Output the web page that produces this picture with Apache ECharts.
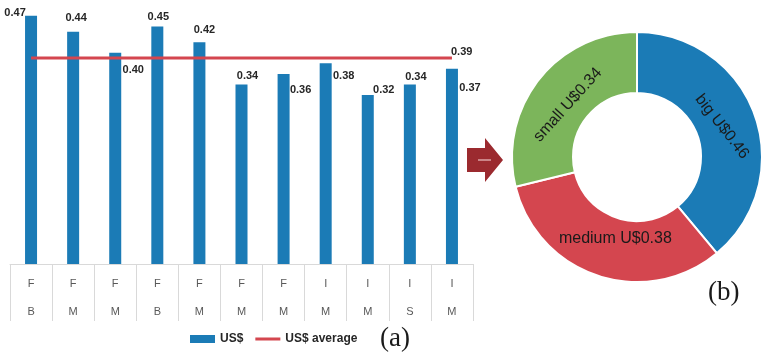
<!DOCTYPE html>
<html>
<head>
<meta charset="utf-8">
<script src="https://cdn.jsdelivr.net/npm/echarts@6/dist/echarts.min.js"></script>
<style>html,body{margin:0;padding:0;background:#fff}#c{width:780px;height:356px}</style>
</head>
<body>
<div id="c"></div>
<script>
// ---- data ----
const row1 = ['F','F','F','F','F','F','F','I','I','I','I'];
const row2 = ['B','M','M','B','M','M','M','M','M','S','M'];
const usd = [0.47,0.44,0.40,0.45,0.42,0.34,0.36,0.38,0.32,0.34,0.37];
const usdAverage = [0.39,0.39,0.39,0.39,0.39,0.39,0.39,0.39,0.39,0.39,0.39];
const pieNames = ['big','medium','small'];
const pieValues = [0.46,0.38,0.34];

// ---- styles (label placement) ----
const barLabelOffsets = [[-16,8],[3,-3],[18,28],[1,1],[5,-2],[6,2],[17,27],[18,23],[16,5],[6,3],[18,30]];
const pieLabelRotate = [-52, 0, 48];
const pieLabelOffsets = [[-2,7],[9,-11],[-1,11]];

const categories = row1.map((r, i) => r + '\n' + row2[i]);
const BLUE = '#1b7bb6', RED = '#d4464f', GREEN = '#7cb55b';
const PIE_COLORS = [BLUE, RED, GREEN];

const chart = echarts.init(document.getElementById('c'));
chart.setOption({
  animation: false,
  textStyle: { fontFamily: 'Liberation Sans' },
  grid: { left: 10, right: 307, top: 0, bottom: 92 },
  legend: {
    left: 190, top: 333, padding: 0, itemWidth: 25, itemHeight: 8, itemGap: 12,
    textStyle: { fontWeight: 'bold', fontSize: 12, color: '#262626' },
    data: [
      { name: 'US$', icon: 'rect' },
      { name: 'US$ average', icon: 'path://M0,0L0.01,0M0,2.6H25V5.4H0ZM25,8L24.99,8' }
    ]
  },
  xAxis: {
    type: 'category', data: categories,
    axisLine: { lineStyle: { color: '#d9d9d9' } },
    axisTick: { show: true, length: 57, interval: 0, lineStyle: { color: '#d9d9d9' } },
    axisLabel: { interval: 0, margin: 6, lineHeight: 28, fontSize: 11, color: '#595959' }
  },
  yAxis: { type: 'value', min: 0, max: 0.5, show: false, splitLine: { show: false } },
  series: [
    {
      name: 'US$', type: 'bar', barWidth: 12, itemStyle: { color: BLUE },
      label: { show: true, position: 'top', fontSize: 11, fontWeight: 'bold', color: '#262626',
               formatter: p => p.value.toFixed(2) },
      data: usd.map((v, i) => ({ value: v, label: { offset: barLabelOffsets[i] } }))
    },
    {
      name: 'US$ average', type: 'line', symbol: 'none', z: 5,
      lineStyle: { color: RED, width: 3 }, itemStyle: { color: RED },
      endLabel: { show: true, distance: 0, offset: [-1, -6], fontSize: 11, fontWeight: 'bold', color: '#262626',
                  formatter: p => p.value.toFixed(2) },
      data: usdAverage
    },
    {
      name: 'share', type: 'pie', center: [637, 157], radius: [64, 125],
      startAngle: 90, clockwise: true, avoidLabelOverlap: false,
      itemStyle: { borderColor: '#fff', borderWidth: 2 },
      label: { show: true, position: 'inside', fontSize: 16, color: '#1a1a1a',
               formatter: p => p.name + ' U$' + p.value.toFixed(2) },
      labelLine: { show: false },
      data: pieNames.map((n, i) => ({
        name: n, value: pieValues[i], itemStyle: { color: PIE_COLORS[i] },
        label: { rotate: pieLabelRotate[i], offset: pieLabelOffsets[i] }
      }))
    }
  ],
  graphic: [
    { type: 'polygon', shape: { points: [[467,148],[485,148],[485,138],[503,160],[485,182],[485,172],[467,172]] }, style: { fill: '#9b2a2f' } },
    { type: 'line', shape: { x1: 478, y1: 160, x2: 491, y2: 160 }, style: { stroke: '#dba3a6', lineWidth: 1.5 } },
    { type: 'text', x: 380, y: 339, style: { text: '(a)', font: '27px "Liberation Serif"', fill: '#1a1a1a', textAlign: 'left', textVerticalAlign: 'middle' } },
    { type: 'text', x: 708, y: 293, style: { text: '(b)', font: '27px "Liberation Serif"', fill: '#1a1a1a', textAlign: 'left', textVerticalAlign: 'middle' } }
  ]
});
</script>
</body>
</html>
